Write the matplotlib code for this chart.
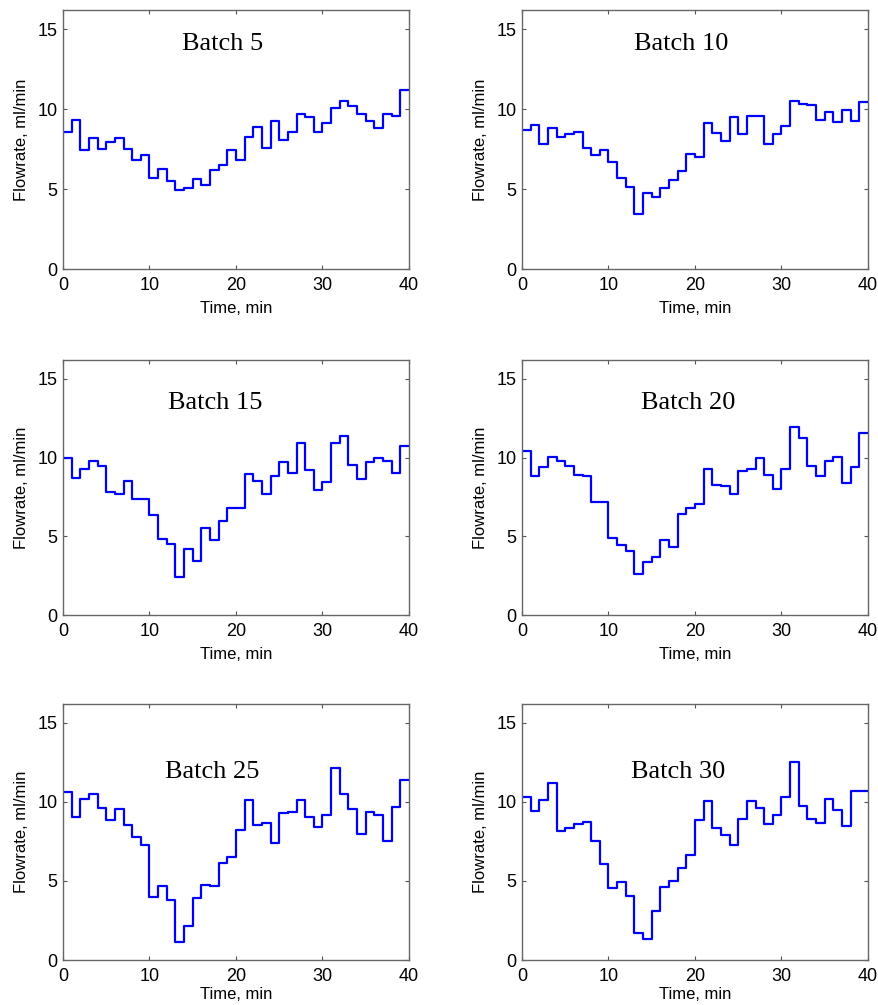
import matplotlib.pyplot as plt
import numpy as np

# flowrate per 1-minute interval
batch5 = [8.56, 9.31, 7.42, 8.2, 7.5, 7.96, 8.19, 7.5, 6.79, 7.15,
          5.69, 6.23, 5.52, 4.96, 5.06, 5.63, 5.27, 6.17, 6.52, 7.44,
          6.79, 8.23, 8.88, 7.56, 9.25, 8.08, 8.58, 9.69, 9.48, 8.56,
          9.13, 10.04, 10.48, 10.17, 9.71, 9.27, 8.81, 9.69, 9.56, 11.21]
batch10 = [8.69, 8.98, 7.83, 8.81, 8.23, 8.44, 8.58, 7.54, 7.15, 7.44,
           6.71, 5.67, 5.1, 3.46, 4.73, 4.52, 5.08, 5.58, 6.15, 7.21,
           7.0, 9.13, 8.5, 8.02, 9.52, 8.42, 9.6, 9.6, 7.79, 8.42,
           8.94, 10.52, 10.33, 10.27, 9.31, 9.79, 9.21, 9.96, 9.25, 10.44]
batch15 = [10.0, 8.73, 9.29, 9.79, 9.48, 7.83, 7.7, 8.54, 7.35, 7.37,
           6.33, 4.86, 4.49, 2.4, 4.18, 3.4, 5.55, 4.78, 5.95, 6.78,
           6.78, 8.94, 8.52, 7.66, 8.85, 9.73, 9.02, 10.9, 9.21, 7.91,
           8.43, 10.94, 11.4, 9.56, 8.64, 9.71, 10.0, 9.79, 9.0, 10.75]
batch20 = [10.44, 8.81, 9.38, 10.06, 9.81, 9.44, 8.92, 8.81, 7.15, 7.15,
           4.88, 4.46, 4.06, 2.63, 3.35, 3.69, 4.75, 4.29, 6.44, 6.81,
           7.08, 9.27, 8.29, 8.21, 7.71, 9.15, 9.29, 10.0, 8.9, 7.98,
           9.25, 11.92, 11.25, 9.46, 8.85, 9.81, 10.02, 8.38, 9.38, 11.54]
batch25 = [10.63, 9.08, 10.19, 10.5, 9.62, 8.89, 9.58, 8.54, 7.81, 7.27,
           3.99, 4.7, 3.8, 1.17, 2.17, 3.92, 4.76, 4.66, 6.12, 6.53,
           8.23, 10.13, 8.52, 8.66, 7.39, 9.31, 9.37, 10.1, 9.04, 8.41,
           9.16, 12.17, 10.5, 9.58, 7.97, 9.35, 9.19, 7.54, 9.71, 11.4]
batch30 = [10.31, 9.44, 10.12, 11.19, 8.19, 8.38, 8.6, 8.73, 7.56, 6.08,
           4.58, 4.96, 4.04, 1.73, 1.33, 3.08, 4.6, 5.0, 5.81, 6.63,
           8.85, 10.06, 8.38, 7.88, 7.27, 8.94, 10.08, 9.65, 8.58, 9.15,
           10.31, 12.5, 9.75, 8.94, 8.69, 10.21, 9.52, 8.46, 10.69, 10.69]

titles = ['Batch 5', 'Batch 10', 'Batch 15', 'Batch 20', 'Batch 25', 'Batch 30']
series = [batch5, batch10, batch15, batch20, batch25, batch30]
title_pos = [(0.46, 0.87), (0.46, 0.87), (0.44, 0.83), (0.48, 0.83), (0.43, 0.735), (0.45, 0.735)]

W, H = 879, 1005
fig = plt.figure(figsize=(W / 100, H / 100), dpi=100)
plt.rcParams['font.family'] = 'Liberation Sans'

# axes boxes in pixels: (left, top, right, bottom)
lefts = [63, 522]
rows = [(10, 269), (360, 615), (704, 960)]

for i, (name, vals) in enumerate(zip(titles, series)):
    r, c = divmod(i, 2)
    top, bot = rows[r]
    left = lefts[c]
    ax = fig.add_axes([left / W, 1 - bot / H, 346 / W, (bot - top) / H])
    t = np.arange(len(vals) + 1)
    y = vals + [vals[-1]]
    ax.plot(t, y, drawstyle='steps-post', color='#0000ff', lw=1.6)
    ax.set_xlim(0, 40)
    ax.set_ylim(0, 16.2)
    ax.set_xticks([0, 10, 20, 30, 40])
    ax.set_yticks([0, 5, 10, 15])
    ax.tick_params(direction='in', length=3, width=0.8, color='#555555',
                   top=True, right=True, labelsize=13)
    ax.tick_params(axis='x', pad=6)
    ax.tick_params(axis='y', pad=4)
    for s in ax.spines.values():
        s.set_color('#666666')
        s.set_linewidth(1.0)
    # bottom row label kept a little tighter so it stays inside the figure
    ax.set_xlabel('Time, min', fontsize=12, labelpad=1 if r == 2 else 5)
    ax.set_ylabel('Flowrate, ml/min', fontsize=12, labelpad=6)
    tx, ty = title_pos[i]
    ax.text(tx, ty, name, transform=ax.transAxes, ha='center', va='center',
            fontsize=19, family='Liberation Serif')

fig.savefig('out.png', dpi=100)
